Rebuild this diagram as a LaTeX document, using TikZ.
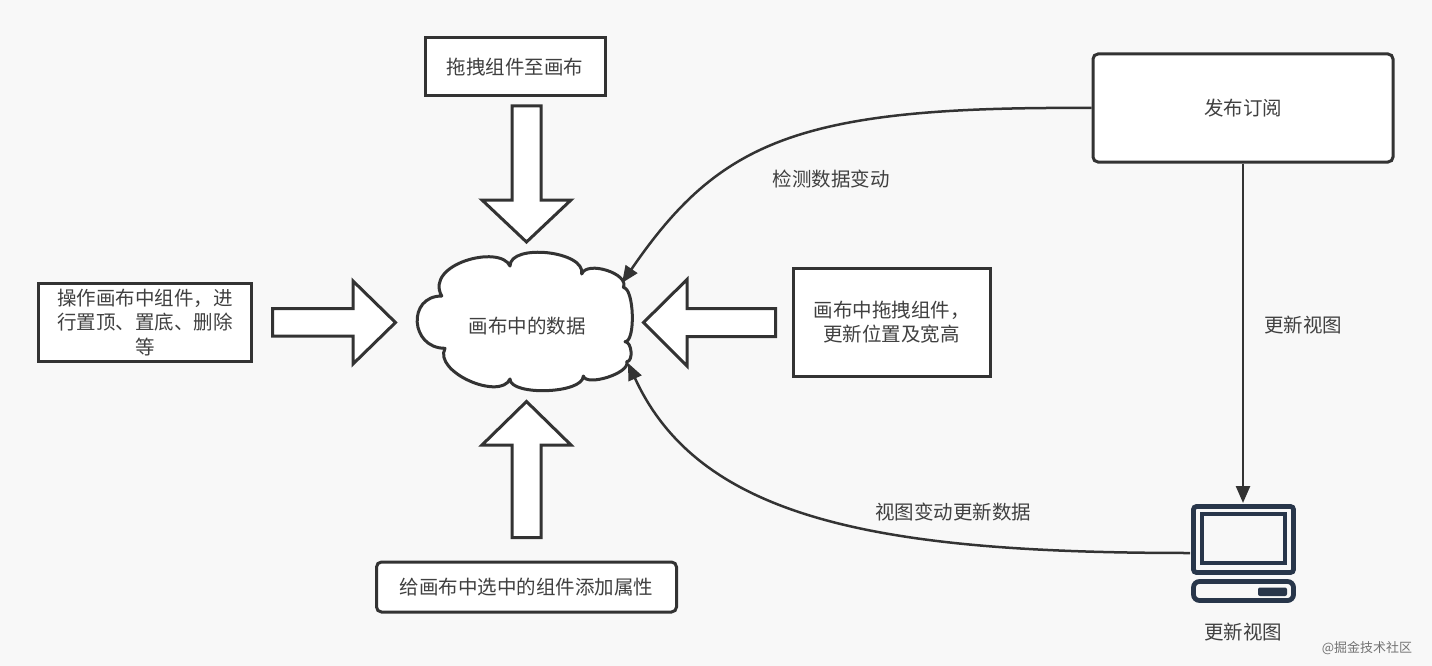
\documentclass[tikz,border=0pt]{standalone}
\usepackage{fontspec}
\setmainfont{Noto Sans CJK SC}
\usetikzlibrary{arrows.meta,calc}
\definecolor{bgc}{RGB}{248,248,248}
\definecolor{ink}{RGB}{51,51,51}
\definecolor{txt}{RGB}{64,64,64}
\definecolor{pcc}{RGB}{40,54,74}
\tikzset{
  box/.style={draw=ink, line width=3pt, fill=white, inner sep=0pt, align=center,
    text=txt, font=\fontsize{19.5}{24.5}\selectfont},
  rbox/.style={box, rounded corners=5pt},
  blockarrow/.style={draw=ink, line width=3pt, fill=white, line join=miter},
  conn/.style={draw=ink, line width=2.5pt, -{Triangle[length=17pt,width=14pt]}},
  lbl/.style={text=txt, inner sep=0pt, font=\fontsize{19.5}{24.5}\selectfont},
  pcline/.style={draw=pcc, line width=4.8pt},
}
\begin{document}
\begin{tikzpicture}[x=1pt,y=-1pt]
\useasboundingbox (0,0) rectangle (1432,666);
\fill[bgc] (0,0) rectangle (1432,666);

% boxes
\node[box, minimum width=180, minimum height=58] (drag) at (515,67) {拖拽组件至画布};
\node[box, minimum width=213, minimum height=78] (ops) at (145,322.5) {操作画布中组件，进\\行置顶、置底、删除\\等};
\node[box, minimum width=197, minimum height=108] (move) at (891.5,322) {画布中拖拽组件，\\更新位置及宽高};
\node[rbox, minimum width=300, minimum height=50] (attr) at (526.5,587) {给画布中选中的组件添加属性};
\node[rbox, minimum width=300, minimum height=108] (pub) at (1243,108) {发布订阅};

% block arrows
\draw[blockarrow] (512,106) -- (541,106) -- (541,200) -- (571,200) -- (526.5,242) -- (482,200) -- (512,200) -- cycle;
\draw[blockarrow] (512,537.5) -- (541,537.5) -- (541,445) -- (571,445) -- (526.5,401.5) -- (482,445) -- (512,445) -- cycle;
\draw[blockarrow] (272.5,308.5) -- (272.5,336) -- (353,336) -- (353,364) -- (395.5,322.5) -- (353,281) -- (353,308.5) -- cycle;
\draw[blockarrow] (775.5,308.5) -- (775.5,336.5) -- (687,336.5) -- (687,366) -- (643.5,322.5) -- (687,279.5) -- (687,308.5) -- cycle;

% cloud
\draw[draw=ink, line width=3pt, fill=white, line join=round]
  (441.7,296) .. controls (424,264) and (500,244) ..
  (510,266) .. controls (510,243) and (586,251) ..
  (581.7,274) .. controls (587,260) and (630,274) ..
  (623.3,287.5) .. controls (634,287.5) and (636,341.7) ..
  (625,341.7) .. controls (632,341.7) and (633.5,361.7) ..
  (626.7,361.7) .. controls (630.8,373) and (586.4,387) ..
  (583.3,376) .. controls (583.3,394) and (510,396) ..
  (510,379) .. controls (500,401) and (433,372) ..
  (445,348.3) .. controls (410,348.3) and (407,296) ..
  cycle;
\node[lbl] (data) at (527,326) {画布中的数据};
\coordinate (c1) at (622,283);
\coordinate (c2) at (628,363);

% computer icon
\draw[pcline, rounded corners=3pt] (1193.5,506.5) rectangle (1293.5,572.5);
\draw[draw=pcc, line width=4pt] (1202,514) rectangle (1285,563);
\draw[pcline, rounded corners=6pt] (1193.5,581.5) rectangle (1293.5,600.5);
\fill[pcc, rounded corners=2pt] (1258,587.5) rectangle (1287,596);
\coordinate (pcTop) at (1243,503);
\coordinate (pcLeft) at (1190,553);
\node[lbl] (pclabel) at (1243,632) {更新视图};

% connectors
\draw[conn] (pub.west) .. controls (800,106) and (720,140) .. (c1);
\draw[conn] (pub.south) -- (pcTop);
\draw[conn] (pcLeft) .. controls (880,553) and (700,520) .. (c2);

% labels
\node[lbl] (l1) at (831,179) {检测数据变动};
\node[lbl] (l2) at (1303,325) {更新视图};
\node[lbl] (l3) at (953,512) {视图变动更新数据};
\node[text=black!55, inner sep=0pt, font=\fontsize{13}{15}\selectfont] (wm) at (1367,648) {@掘金技术社区};
\end{tikzpicture}
\end{document}
